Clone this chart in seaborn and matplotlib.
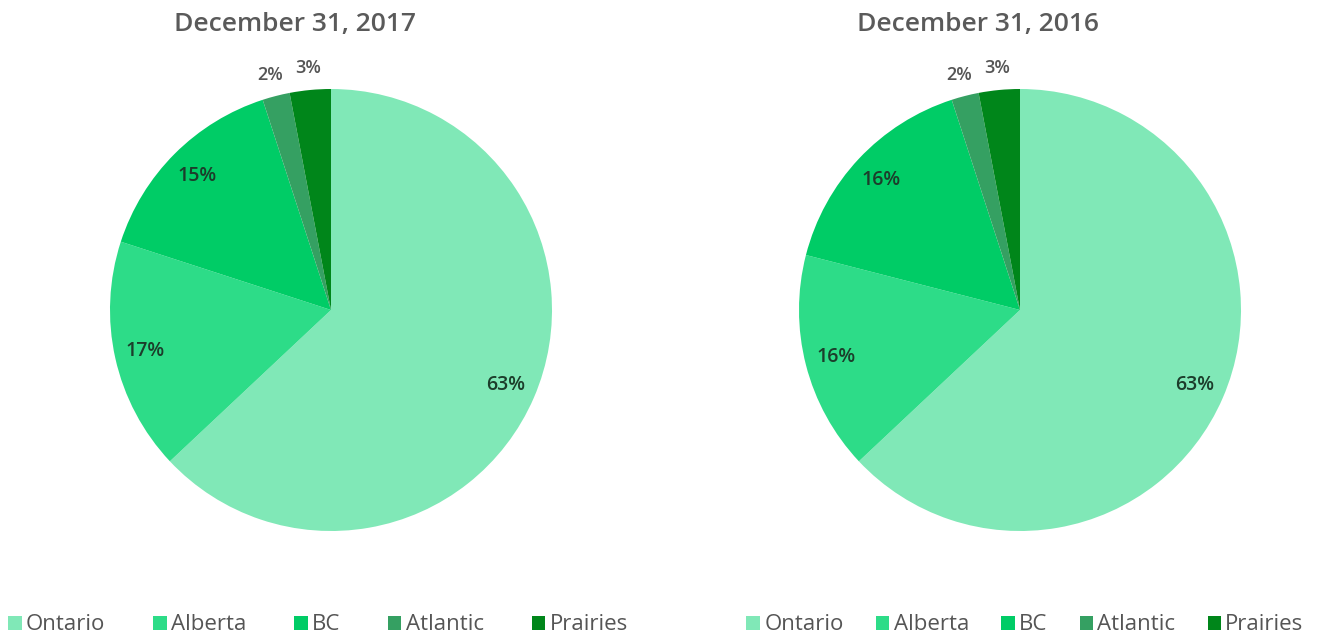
import matplotlib
matplotlib.use("Agg")
import matplotlib.pyplot as plt
from matplotlib.patches import Patch
import numpy as np
import seaborn as sns

regions = ["Ontario", "Alberta", "BC", "Atlantic", "Prairies"]
share_2017 = [63, 17, 15, 2, 3]
share_2016 = [63, 16, 16, 2, 3]
titles = ["December 31, 2017", "December 31, 2016"]

sns.set_theme(style="white")
plt.rcParams["font.family"] = ["Open Sans", "DejaVu Sans"]

palette = sns.color_palette(["#80e8b7", "#2ddc88", "#00cc66", "#35a062", "#00861a"])

W, H = 1320, 638
fig = plt.figure(figsize=(W / 100, H / 100), dpi=100)
fig.patch.set_facecolor("white")

R = 221  # pie radius in pixels


def draw_pie(values, title, cx, cy, title_x, legend_x, colspacing):
    ax = fig.add_axes([(cx - R) / W, 1 - (cy + R) / H, 2 * R / W, 2 * R / H])
    wedges, _ = ax.pie(values, colors=palette, startangle=90, counterclock=False,
                       radius=1, wedgeprops=dict(linewidth=0))
    ax.set_xlim(-1, 1)
    ax.set_ylim(-1, 1)
    ax.set_aspect("equal")
    ax.axis("off")
    for w, v in zip(wedges, values):
        mid = np.deg2rad((w.theta1 + w.theta2) / 2)
        if v >= 5:
            d, col, fs = 0.86, "#1c3d2b", 14
        else:
            d, col, fs = 1.1, "#555555", 13
        ax.text(d * np.cos(mid), d * np.sin(mid), f"{v}%", ha="center", va="center",
                fontsize=fs, color=col, fontweight="semibold", clip_on=False)
    fig.text(title_x / W, 1 - 25 / H, title, ha="center", va="center",
             fontsize=19, color="#5a5a5a", fontweight="semibold")
    handles = [Patch(facecolor=c, edgecolor="none") for c in palette]
    fig.legend(handles, regions, loc="center", bbox_to_anchor=(legend_x / W, 1 - 625 / H),
               ncol=5, frameon=False, fontsize=16, labelcolor="#555555",
               handlelength=0.6, handleheight=0.6, handletextpad=0.2,
               columnspacing=colspacing, borderaxespad=0, borderpad=0)


draw_pie(share_2017, titles[0], 331, 310, 295, 318, 2.15)
draw_pie(share_2016, titles[1], 1020, 310, 978, 1025, 1.45)

fig.savefig("out.png", dpi=100, facecolor="white")
